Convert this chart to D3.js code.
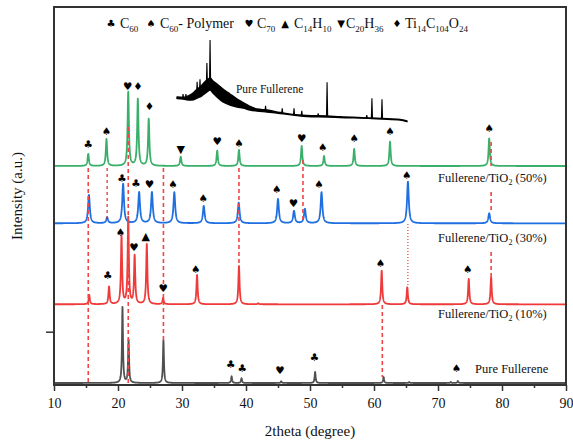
<!DOCTYPE html>
<html><head><meta charset="utf-8">
<script src="https://cdn.jsdelivr.net/npm/d3@7"></script>
<style>
body{margin:0;background:#fff;}
text{font-family:"Liberation Serif","Times New Roman",serif;fill:#111;}
.sym{font-family:"DejaVu Sans",sans-serif;}
</style>
</head><body><svg id="c" width="573" height="444"></svg>
<script>
// ---------- data ----------
const xTicks=[10,20,30,40,50,60,70,80,90];
const xMinorTicks=[15,25,35,45,55,65,75,85];
const yTicks=[53.3];

const seriesNames=["Pure Fullerene","Fullerene/TiO2 (10%)","Fullerene/TiO2 (30%)","Fullerene/TiO2 (50%)"];
const seriesOffsets=[2,80.7,161.7,219];
const seriesColors=["#505050","#f03a3a","#1f6fe0","#3aaf6a"];

const purePos=[20.7,21.65,27.1,37.75,39.3,45.5,50.8,61.5,65.5,72.0,73.1];
const pureH=[75.7,42.7,42.7,6.7,4.7,1.7,11,6,1,1,2];
const tio10Pos=[15.5,18.6,20.55,21.6,22.6,24.5,27.05,32.35,38.9,41.9,61.2,65.2,74.8,78.3];
const tio10H=[9.3,17.6,67.6,86.3,48.3,60,6.3,29.3,38.3,1,33.6,17,25.3,27];
const tio30Pos=[15.46,18.3,20.8,23.3,25.3,28.8,33.4,38.86,45.0,47.5,49.2,51.8,65.3,78.0];
const tio30H=[28.3,5.6,39.3,31,31,31,17.3,20.6,24.3,12.3,14.3,31,41.6,10];
const tio50Pos=[15.35,18.2,21.6,23.1,24.8,29.8,35.5,38.9,48.7,52.2,56.9,62.5,78.0];
const tio50H=[12,27,73.7,66.7,47,9.3,15.3,16,20,10,17,24.3,27.7];

// phase markers: symbol, 2θ, level (y units)
const markerSym=["♣","♠","♥","♦","♦","▼","♥","♠","♥","♠","♠","♠","♠",
  "♣","♣","♥","♠","♠","♠","♥","♠","♠",
  "♣","♠","♥","▲","♥","♠","♠","♠",
  "♣","♣","♥","♣","♠"];
const markerPos=[15.35,18.2,21.5,23.1,24.9,29.8,35.5,38.9,48.7,52.0,56.9,62.5,78.0,
  20.6,22.8,24.9,28.6,33.3,44.8,47.4,51.4,65.1,
  18.4,20.4,22.5,24.35,27.05,32.15,61.0,74.65,
  37.6,39.4,45.3,50.7,72.9];
const markerLevel=[241,254.3,299.3,299.3,279,236,244,242.3,246.7,238.3,246.7,254,256.7,
  206.7,202.3,201,200.7,186.7,195.7,181.7,200.7,210,
  110,153.3,138.3,148.3,97.3,116,121.7,116,
  20.7,17.3,15,28.3,17.3];

// reference lines
const refPos=[15.35,18.3,21.6,27.1,38.9,48.9,61.3,65.3,78.3,78.3,78.3];
const refTop=[217,217,258,217,217,225,80,161,243,193,133];
const refBottom=[2,164,2,45,119,163,8,98,219,172,108];
const refKind=["dash","fine","dash","dash","dash","dash","dash","dot","dash","dash","dash"];

// series labels: 2θ, level
const labelPos=[75.8,70.0,70.0,70.0];
const labelLevel=[11.7,66.7,143.3,202.7];

// inset (pure fullerene survey)
const insetDeg=[10,12.1,14.5,16.0,17.0,18.0,19.0,20.4,21.5,22.5,23.9,26.0,28.4,30.9,33.0,35.4,37.8,41.3,45.8,50.3,55.2,62.2,66.7,77.8,81.3,87.6,90];
const insetUpper=[25,24.5,27,30,33,35,38,42,44,41,38,33,28,23,19.5,15.5,13,12,9.5,7.5,6.5,6,5.2,4,3.5,2.5,1];
const insetLower=[23.5,23,22,22.5,24,25,27,30,32,29,25,20,17,15,14,12,11,10,8.5,7,5.5,5,4.5,3.5,3,2,0.3];
const insetSpikePos=[12.1,13.1,17.0,18.0,20.4,21.5,40.8,46.6,50.7,53.4,59.1,62.2,76.0,77.8,81.3];
const insetSpikeH=[28,28,40.3,42.7,59,82,16.3,13.7,13.7,11.3,8.7,39.7,7,23.7,22.7];

// legend
const legendItems=[
  {sym:"♣",parts:[["C",0],["60",1]]},
  {sym:"♠",parts:[["C",0],["60",1],["- Polymer",0]]},
  {sym:"♥",parts:[["C",0],["70",1]]},
  {sym:"▲",parts:[["C",0],["14",1],["H",0],["10",1]]},
  {sym:"▼",parts:[["C",0],["20",1],["H",0],["36",1]]},
  {sym:"♦",parts:[["Ti",0],["14",1],["C",0],["104",1],["O",0],["24",1]]}
];

// ---------- drawing ----------
const svg=d3.select("#c");
const M={l:54,r:566,t:7,b:385};
const x=d3.scaleLinear().domain([10,90]).range([M.l,M.r]);
const y=d3.scaleLinear().domain([0,378]).range([M.b,M.t]);

const widths=[0.09,0.11,0.16,0.12];
const peaks=[[purePos,pureH],[tio10Pos,tio10H],[tio30Pos,tio30H],[tio50Pos,tio50H]];

function profile(pos,h,off,g){
  const grid=d3.range(10,90.0001,0.02).concat(pos).sort((a,b)=>a-b);
  return grid.map(t=>{
    let v=off;
    for(let i=0;i<pos.length;i++){const d=t-pos[i];v+=h[i]*g*g/(d*d+g*g);}
    return [t,v];
  });
}
const line=d3.line().x(d=>x(d[0])).y(d=>y(d[1]));

const gTr=svg.append("g");
peaks.forEach((p,i)=>{
  gTr.append("path").attr("d",line(profile(p[0],p[1],seriesOffsets[i],widths[i])))
    .attr("fill","none").attr("stroke",seriesColors[i]).attr("stroke-width",1.8)
    .attr("stroke-linejoin","round");
});

// reference lines
const refStyle={dash:{c:"#f04545",w:1.6,d:"4,3"},fine:{c:"#d41818",w:1.1,d:"3,3"},dot:{c:"#d41818",w:1,d:"1,2"}};
refPos.forEach((p,i)=>{
  const s=refStyle[refKind[i]];
  svg.append("line").attr("x1",x(p)).attr("x2",x(p)).attr("y1",y(refTop[i])).attr("y2",y(refBottom[i]))
    .attr("stroke",s.c).attr("stroke-width",s.w).attr("stroke-dasharray",s.d);
});

// markers
markerSym.forEach((s,i)=>{
  svg.append("text").attr("class","sym").attr("x",x(markerPos[i])).attr("y",y(markerLevel[i]))
    .attr("text-anchor","middle").attr("dominant-baseline","central")
    .style("font-size",(s==="▲"||s==="▼")?"11px":"10.5px").style("fill","#000").text(s);
});

// series labels
seriesNames.forEach((n,i)=>{
  const t=svg.append("text").attr("x",x(labelPos[i])).attr("y",y(labelLevel[i])).style("font-size","12.5px");
  const m=n.match(/^(.*TiO)2(.*)$/);
  if(m){
    t.append("tspan").text(m[1]);
    t.append("tspan").attr("dy",3).style("font-size","8px").text("2");
    t.append("tspan").attr("dy",-3).text(m[2]);
  } else t.text(n);
});

// inset
const ix=d3.scaleLinear().domain([10,90]).range([177,407]);
const iy=d3.scaleLinear().domain([0,82]).range([122,40]);
const band=insetDeg.map((d,i)=>[d,insetLower[i],insetUpper[i]]);
svg.append("path").attr("d",d3.area().x(d=>ix(d[0])).y0(d=>iy(d[1])).y1(d=>iy(d[2])).curve(d3.curveMonotoneX)(band))
  .attr("fill","#000").attr("stroke","#000").attr("stroke-width",1.4).attr("stroke-linejoin","round");
const midAt=d3.scaleLinear().domain(insetDeg).range(insetDeg.map((d,i)=>(insetUpper[i]+insetLower[i])/2));
insetSpikePos.forEach((p,i)=>{
  const b=midAt(p);
  svg.append("path").attr("d",d3.line().x(d=>ix(d[0])).y(d=>iy(d[1]))([[p-0.2,b],[p,insetSpikeH[i]],[p+0.2,b]]))
    .attr("fill","none").attr("stroke","#000").attr("stroke-width",1.1);
});
svg.append("text").attr("x",ix(30.5)).attr("y",iy(29.3)).style("font-size","11.5px").text("Pure Fullerene");

// axes
const ax=svg.append("g").attr("transform",`translate(0,${M.b})`)
  .call(d3.axisBottom(x).tickValues(xTicks).tickSize(6).tickSizeOuter(0).tickPadding(7));
ax.select(".domain").remove();
ax.selectAll("line").attr("stroke","#333").attr("stroke-width",1.5);
ax.selectAll("text").style("font-size","14px").style("font-family","Liberation Serif,serif").attr("fill","#111");
const axm=svg.append("g").attr("transform",`translate(0,${M.b})`)
  .call(d3.axisBottom(x).tickValues(xMinorTicks).tickSize(3).tickFormat(""));
axm.select(".domain").remove();
axm.selectAll("line").attr("stroke","#333").attr("stroke-width",1.5);
const ayg=svg.append("g").attr("transform",`translate(${M.l},0)`)
  .call(d3.axisLeft(y).tickValues(yTicks).tickSize(8).tickFormat(""));
ayg.select(".domain").remove();
ayg.selectAll("line").attr("stroke","#333").attr("stroke-width",1.5);

svg.append("rect").attr("x",M.l).attr("y",M.t).attr("width",M.r-M.l).attr("height",M.b-M.t)
  .attr("fill","none").attr("stroke","#333").attr("stroke-width",2);

svg.append("text").attr("x",(M.l+M.r)/2).attr("y",436).attr("text-anchor","middle").style("font-size","15px").text("2theta (degree)");
svg.append("text").attr("transform",`translate(22,${(M.t+M.b)/2}) rotate(-90)`).attr("text-anchor","middle")
  .style("font-size","15px").text("Intensity (a.u.)");

// legend (layout positions)
const legSymX=[111,151,249,285,341,397];
const legTxtX=[120,160,257,294,346,405];
legendItems.forEach((it,k)=>{
  svg.append("text").attr("class","sym").attr("x",legSymX[k]).attr("y",27).attr("text-anchor","middle")
    .style("font-size","10px").style("fill","#000").text(it.sym);
  const t=svg.append("text").attr("x",legTxtX[k]).attr("y",28).style("font-size","14px").style("white-space","pre");
  it.parts.forEach(p=>{
    if(p[1]) t.append("tspan").attr("baseline-shift","-4").style("font-size","9px").text(p[0]);
    else t.append("tspan").text(p[0]);
  });
});
</script></body></html>
